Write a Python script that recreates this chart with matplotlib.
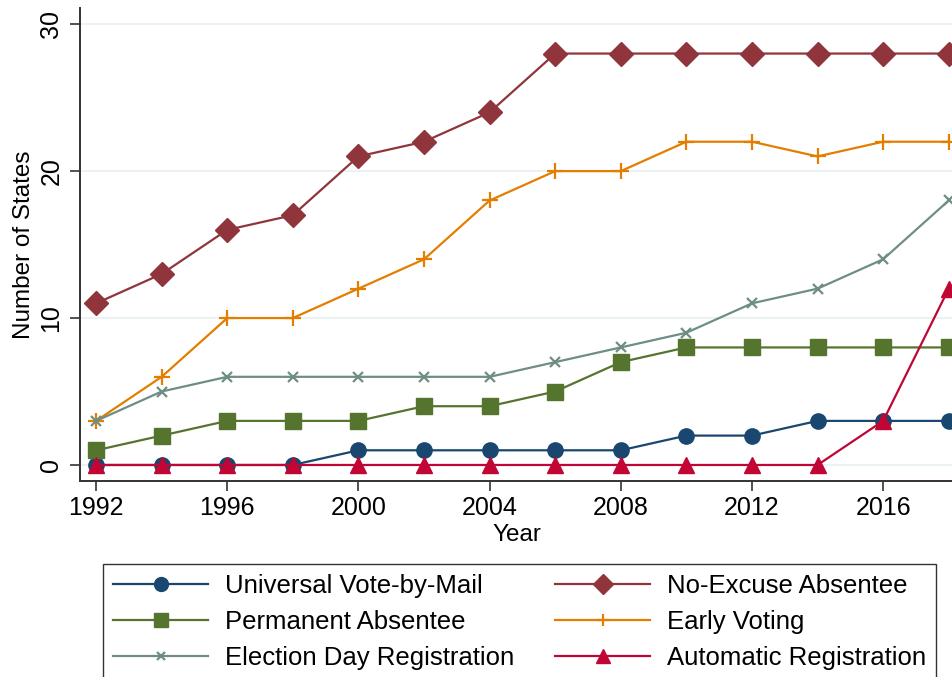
import matplotlib
matplotlib.use("Agg")
import matplotlib.pyplot as plt
from matplotlib.lines import Line2D

years = [1992, 1994, 1996, 1998, 2000, 2002, 2004, 2006, 2008, 2010, 2012, 2014, 2016, 2018]
universal_vbm = [0, 0, 0, 0, 1, 1, 1, 1, 1, 2, 2, 3, 3, 3]
no_excuse = [11, 13, 16, 17, 21, 22, 24, 28, 28, 28, 28, 28, 28, 28]
permanent = [1, 2, 3, 3, 3, 4, 4, 5, 7, 8, 8, 8, 8, 8]
early_voting = [3, 6, 10, 10, 12, 14, 18, 20, 20, 22, 22, 21, 22, 22]
election_day_reg = [3, 5, 6, 6, 6, 6, 6, 7, 8, 9, 11, 12, 14, 18]
automatic_reg = [0, 0, 0, 0, 0, 0, 0, 0, 0, 0, 0, 0, 3, 12]

x_ticks = [1992, 1996, 2000, 2004, 2008, 2012, 2016]
y_ticks = [0, 10, 20, 30]

plt.rcParams["font.family"] = ["Liberation Sans", "DejaVu Sans"]

fig = plt.figure(figsize=(9.53, 6.77), dpi=100)
ax = fig.add_axes([80 / 953, 1 - 481 / 677, 1 - 80 / 953, (481 - 8) / 677])

# (label, values, colour, marker, plot size, legend size, extra kwargs)
series = [
    ("Universal Vote-by-Mail", universal_vbm, "#1a476f", "o", 11, 10, {}),
    ("No-Excuse Absentee", no_excuse, "#90353b", "D", 12, 10.5, {}),
    ("Permanent Absentee", permanent, "#55752f", "s", 11, 10, {}),
    ("Early Voting", early_voting, "#e37e00", "+", 11, 9, {"markeredgewidth": 1.6}),
    ("Election Day Registration", election_day_reg, "#6e8e84", "x", 7, 5.5, {"markeredgewidth": 1.6}),
    ("Automatic Registration", automatic_reg, "#c10534", "^", 12, 10.5, {}),
]

draw_order = [1, 3, 4, 2, 0, 5]
for i in draw_order:
    label, vals, color, mk, ms, _, kw = series[i]
    ax.plot(years, vals, color=color, lw=1.6, marker=mk, markersize=ms,
            markerfacecolor=color, markeredgecolor=color, clip_on=False,
            zorder=3 + i, **kw)

ax.set_xlim(1991.51, 2018.13)
ax.set_ylim(-1.09, 31.1)
ax.set_xticks(x_ticks)
ax.set_yticks(y_ticks)
ax.yaxis.grid(True, color="#eaf2f3", lw=1.4)
ax.set_axisbelow(True)
for s in ["top", "right"]:
    ax.spines[s].set_visible(False)
for s in ["left", "bottom"]:
    ax.spines[s].set_color("#333333")
    ax.spines[s].set_linewidth(1.4)
ax.tick_params(axis="both", labelsize=18, length=7, width=1.2, color="#333333")
ax.tick_params(axis="x", pad=4)
ax.tick_params(axis="y", pad=5)
for lab in ax.get_yticklabels():
    lab.set_rotation(90)
    lab.set_va("center")
ax.set_xlabel("Year", fontsize=17.5, labelpad=3)
ax.set_ylabel("Number of States", fontsize=17.5, labelpad=3)

# legend entries: row-wise pairs, matplotlib fills column-wise
leg_order = [0, 2, 4, 1, 3, 5]
handles = []
for i in leg_order:
    label, vals, color, mk, _, lms, kw = series[i]
    handles.append(Line2D([], [], color=color, lw=1.6, marker=mk, markersize=lms,
                          markerfacecolor=color, markeredgecolor=color,
                          label=label, **kw))
leg = fig.legend(handles=handles, loc="upper left", ncol=2,
                 bbox_to_anchor=(103 / 953, 1 - 564 / 677),
                 fontsize=18.5, frameon=True, fancybox=False,
                 edgecolor="black", handlelength=3.7, handletextpad=0.64,
                 labelspacing=0.47, borderpad=0.4, columnspacing=1.6,
                 borderaxespad=0)
leg.get_frame().set_linewidth(1.0)

fig.savefig("out.png", dpi=100, facecolor="white")
